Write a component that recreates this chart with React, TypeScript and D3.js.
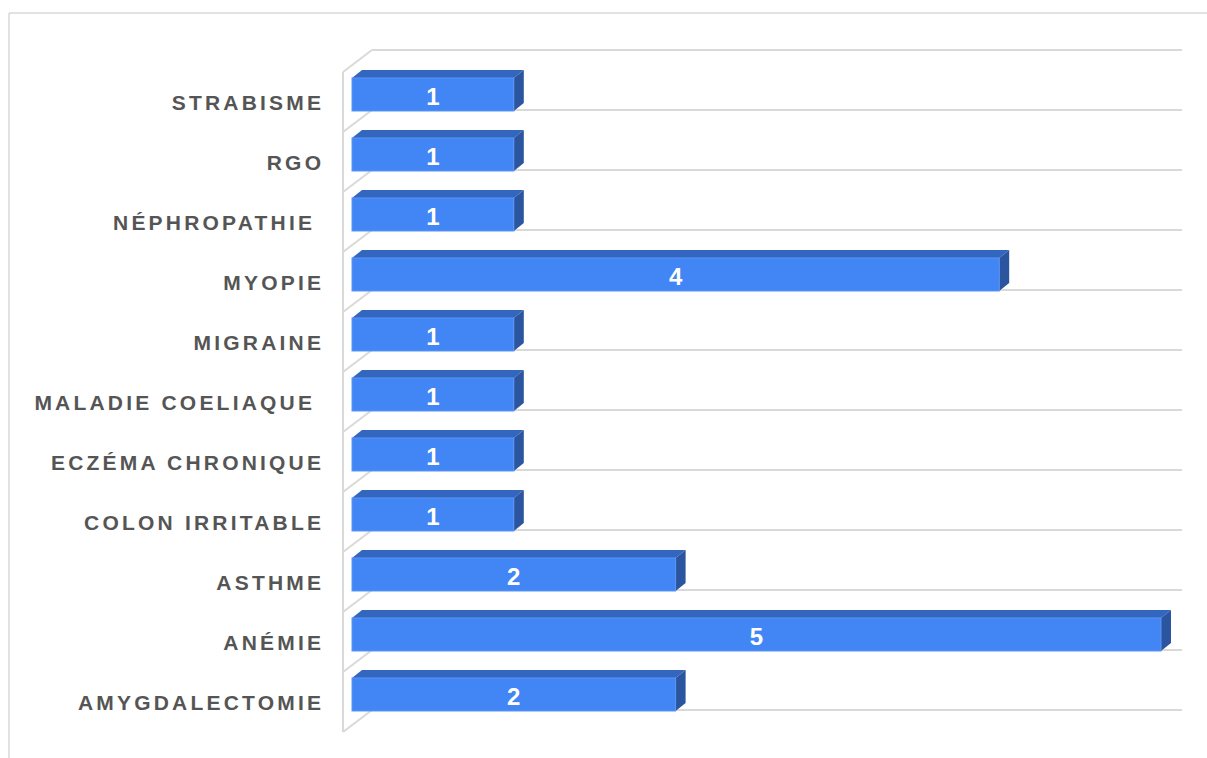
import React from "react";
import * as d3 from "d3";

const categories = [
  "STRABISME",
  "RGO",
  "NÉPHROPATHIE ",
  "MYOPIE",
  "MIGRAINE",
  "MALADIE COELIAQUE ",
  "ECZÉMA CHRONIQUE",
  "COLON IRRITABLE",
  "ASTHME",
  "ANÉMIE",
  "AMYGDALECTOMIE",
];
const values = [1, 1, 1, 4, 1, 1, 1, 1, 2, 5, 2];
const valueDomain = [0, 5];

const W = 1207;
const H = 758;
const DX = 29;
const DY = 22;
const BDX = 10;
const BDY = 8;
const LS = 3.2;

export default function App() {
  const x = d3.scaleLinear().domain(valueDomain).range([352, 1161]);
  const yBack = d3.scaleBand<string>().domain(categories).range([50, 710]).padding(0);
  const bw = yBack.bandwidth();
  const gridYs = d3.range(categories.length + 1).map((i) => 50 + i * bw);

  return (
    <svg
      width={W}
      height={H}
      style={{ position: "absolute", left: 0, top: 0, background: "#fff" }}
      fontFamily="'Liberation Sans', Arial, sans-serif"
    >
      <line x1={9} y1={13} x2={W} y2={13} stroke="#d9d9d9" strokeWidth={1.5} />
      <line x1={9} y1={13} x2={9} y2={H} stroke="#d9d9d9" strokeWidth={1.5} />

      {gridYs.map((gy, i) => (
        <g key={"g" + i}>
          <line x1={372} y1={gy} x2={1182} y2={gy} stroke="#d9d9d9" strokeWidth={2} />
          <line x1={372 - DX} y1={gy + DY} x2={372} y2={gy} stroke="#d9d9d9" strokeWidth={2} />
        </g>
      ))}
      <line x1={372 - DX} y1={50 + DY} x2={372 - DX} y2={710 + DY} stroke="#d9d9d9" strokeWidth={2} />

      {categories.map((c, i) => {
        const top = (yBack(c) as number) + 28;
        const bot = top + 33;
        const x0 = x(0);
        const x1 = x(values[i]);
        return (
          <g key={"b" + i}>
            <polygon
              points={`${x0},${top} ${x0 + BDX},${top - BDY} ${x1 + BDX},${top - BDY} ${x1},${top}`}
              fill="#3366bf"
            />
            <polygon
              points={`${x1},${top} ${x1 + BDX},${top - BDY} ${x1 + BDX},${bot - BDY} ${x1},${bot}`}
              fill="#2b559e"
            />
            <rect x={x0} y={top} width={x1 - x0} height={bot - top} fill="#4285f4" stroke="#5a95f5" strokeWidth={1} />
            <text
              x={(x0 + x1) / 2}
              y={(top + bot) / 2 + 1.5}
              dy="0.36em"
              textAnchor="middle"
              fill="#ffffff"
              fontWeight="bold"
              fontSize={24}
            >
              {values[i]}
            </text>
          </g>
        );
      })}

      {categories.map((c, i) => (
        <text
          key={"l" + i}
          x={321 + LS}
          y={(yBack(c) as number) + DY + bw / 2}
          dy="0.36em"
          textAnchor="end"
          fill="#555555"
          fontWeight="bold"
          fontSize={21}
          letterSpacing={LS}
          style={{ whiteSpace: "pre" }}
        >
          {c}
        </text>
      ))}
    </svg>
  );
}
